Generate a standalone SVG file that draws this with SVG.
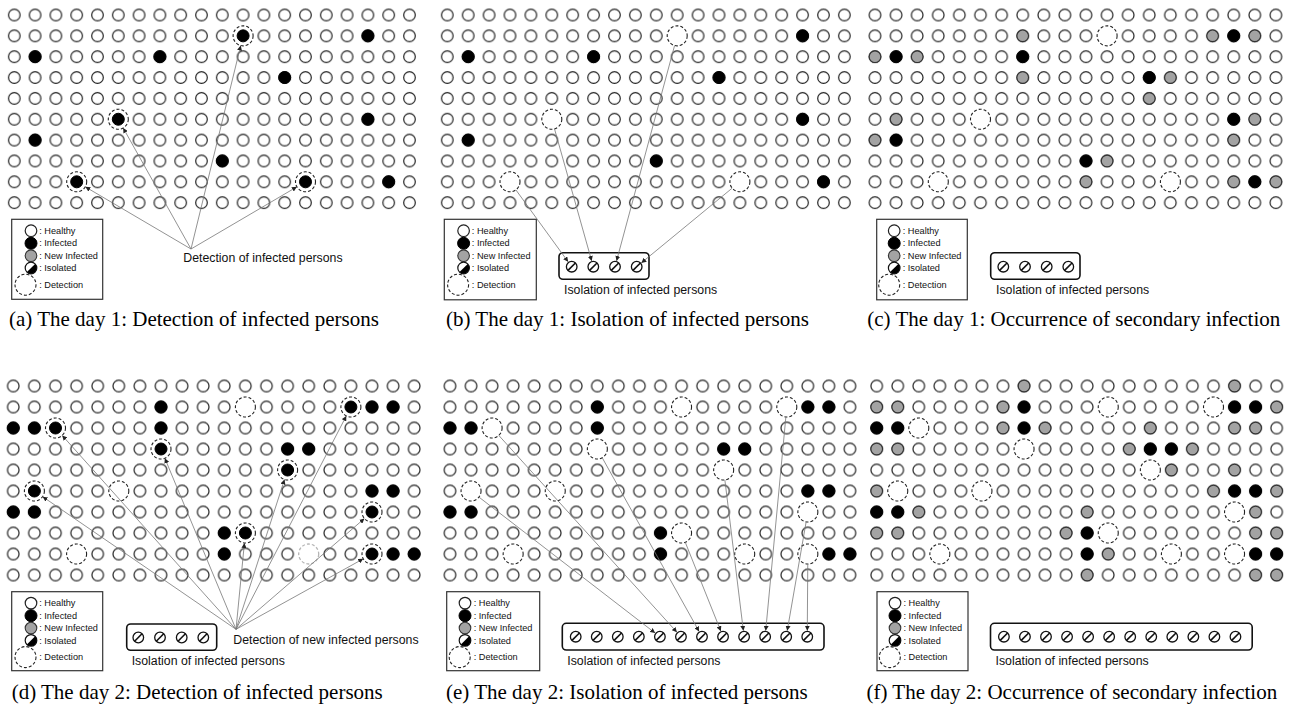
<svg xmlns="http://www.w3.org/2000/svg" xmlns:xlink="http://www.w3.org/1999/xlink" width="1293" height="707" viewBox="0 0 1293 707">
<style>
.h{fill:#fff;stroke:#222;stroke-width:1.2}
.b{fill:#000;stroke:#000;stroke-width:1}
.g{fill:#a3a3a3;stroke:#333;stroke-width:1.1}
.r{fill:#fff;stroke:#222;stroke-width:1.1;stroke-dasharray:3 2}
.rl{fill:#fff;stroke:#b5b5b5;stroke-width:1.3;stroke-dasharray:3 2}
.lg{fill:#fff;stroke:#333;stroke-width:1.2}
.box{fill:#fff;stroke:#111;stroke-width:1.6}
.lt{font-family:"Liberation Sans",Arial,sans-serif;font-size:9.2px;fill:#111}
.lab{font-family:"Liberation Sans",Arial,sans-serif;font-size:12.3px;fill:#111}
.cap{font-family:"Liberation Serif","Times New Roman",serif;font-size:21px;fill:#000}
.cn{fill:none;stroke:#777;stroke-width:0.8;marker-end:url(#ah)}
</style>
<defs>
<marker id="ah" viewBox="0 0 10 10" refX="10" refY="5" markerWidth="5" markerHeight="5" markerUnits="userSpaceOnUse" orient="auto"><path d="M0,0L10,5L0,10z" fill="#222"/></marker>
<pattern id="pA" patternUnits="userSpaceOnUse" x="3.9" y="4.575" width="20.8" height="20.85"><circle class="h" cx="10.4" cy="10.425" r="5.8"/></pattern>
<pattern id="pB" patternUnits="userSpaceOnUse" x="436.85" y="4.575" width="20.9" height="20.85"><circle class="h" cx="10.45" cy="10.425" r="5.8"/></pattern>
<pattern id="pC" patternUnits="userSpaceOnUse" x="864.45" y="4.575" width="21.1" height="20.85"><circle class="h" cx="10.55" cy="10.425" r="5.8"/></pattern>
<pattern id="pD" patternUnits="userSpaceOnUse" x="2.75" y="375.5" width="21.1" height="21"><circle class="h" cx="10.55" cy="10.5" r="5.8"/></pattern>
<pattern id="pE" patternUnits="userSpaceOnUse" x="439.475" y="375.5" width="21.05" height="21"><circle class="h" cx="10.525" cy="10.5" r="5.8"/></pattern>
<pattern id="pF" patternUnits="userSpaceOnUse" x="866.175" y="375.5" width="21.05" height="21"><circle class="h" cx="10.525" cy="10.5" r="5.8"/></pattern>
<g id="iso"><circle cx="0" cy="0" r="5.3" fill="#fff" stroke="#111" stroke-width="1.3"/><line x1="3.7" y1="-3.7" x2="-3.7" y2="3.7" stroke="#111" stroke-width="1.6"/></g>
<g id="isoL"><circle cx="0" cy="0" r="5.8" fill="#fff" stroke="#111" stroke-width="1.2"/><path d="M4.1,-4.1A5.8,5.8 0 0 1 -4.1,4.1Z" fill="#000"/></g>
</defs>
<rect width="1293" height="707" fill="#fff"/>

<!-- ===== Panel (a) ===== -->
<g id="panel-a">
<rect x="3.9" y="4.575" width="416" height="208.5" fill="url(#pA)"/>
<g id="a-infected">
<circle class="b" cx="35.1" cy="56.7" r="6"/><circle class="b" cx="159.9" cy="56.7" r="6"/><circle class="b" cx="367.9" cy="35.85" r="6"/><circle class="b" cx="284.7" cy="77.55" r="6"/><circle class="b" cx="367.9" cy="119.25" r="6"/><circle class="b" cx="35.1" cy="140.1" r="6"/><circle class="b" cx="222.3" cy="160.95" r="6"/><circle class="b" cx="388.7" cy="181.8" r="6"/>
</g>
<g id="a-detected">
<circle class="r" cx="243.1" cy="35.85" r="10"/><circle class="b" cx="243.1" cy="35.85" r="6"/>
<circle class="r" cx="118.3" cy="119.25" r="10"/><circle class="b" cx="118.3" cy="119.25" r="6"/>
<circle class="r" cx="76.7" cy="181.8" r="10"/><circle class="b" cx="76.7" cy="181.8" r="6"/>
<circle class="r" cx="305.5" cy="181.8" r="10"/><circle class="b" cx="305.5" cy="181.8" r="6"/>
</g>
<g id="legend-a" transform="translate(11.7,219.3)">
<rect class="lg" x="0" y="0" width="91" height="80"/>
<circle class="h" cx="19.3" cy="11.4" r="5.8"/><circle class="b" cx="19.3" cy="24" r="6"/><circle class="g" cx="19.3" cy="36.4" r="5.8"/><use href="#isoL" x="19.3" y="48.7"/><circle class="r" cx="13.8" cy="65.4" r="10.5"/>
<text class="lt" x="27.5" y="14.6">: Healthy</text><text class="lt" x="27.5" y="27.2">: Infected</text><text class="lt" x="27.5" y="39.6">: New Infected</text><text class="lt" x="27.5" y="51.9">: Isolated</text><text class="lt" x="27.5" y="68.6">: Detection</text>
</g>
<text class="lab" x="183.3" y="262">Detection of infected persons</text>
<text class="cap" x="9" y="326">(a) The day 1: Detection of infected persons</text>
</g>

<!-- ===== Panel (b) ===== -->
<g id="panel-b">
<rect x="436.85" y="4.575" width="418" height="208.5" fill="url(#pB)"/>
<g id="b-infected">
<circle class="b" cx="802.6" cy="35.85" r="6"/><circle class="b" cx="468.2" cy="56.7" r="6"/><circle class="b" cx="593.6" cy="56.7" r="6"/><circle class="b" cx="719" cy="77.55" r="6"/><circle class="b" cx="802.6" cy="119.25" r="6"/><circle class="b" cx="468.2" cy="140.1" r="6"/><circle class="b" cx="656.3" cy="160.95" r="6"/><circle class="b" cx="823.5" cy="181.8" r="6"/>
</g>
<g id="b-detected">
<circle class="r" cx="677.2" cy="35.85" r="10"/><circle class="r" cx="551.8" cy="119.25" r="10"/><circle class="r" cx="510" cy="181.8" r="10"/><circle class="r" cx="739.9" cy="181.8" r="10"/>
</g>
<g id="legend-b" transform="translate(444.3,219.3)">
<rect class="lg" x="0" y="0" width="92" height="80.5"/>
<circle class="h" cx="19.3" cy="11.4" r="5.8"/><circle class="b" cx="19.3" cy="24" r="6"/><circle class="g" cx="19.3" cy="36.4" r="5.8"/><use href="#isoL" x="19.3" y="48.7"/><circle class="r" cx="13.8" cy="65.4" r="10.5"/>
<text class="lt" x="27.5" y="14.6">: Healthy</text><text class="lt" x="27.5" y="27.2">: Infected</text><text class="lt" x="27.5" y="39.6">: New Infected</text><text class="lt" x="27.5" y="51.9">: Isolated</text><text class="lt" x="27.5" y="68.6">: Detection</text>
</g>
<g id="iso-b">
<rect class="box" x="559" y="252.7" width="90" height="26.6" rx="4"/>
<use href="#iso" x="571.7" y="266.7"/><use href="#iso" x="593.3" y="266.7"/><use href="#iso" x="615" y="266.7"/><use href="#iso" x="636.7" y="266.7"/>
</g>
<text class="lab" x="564" y="294.3">Isolation of infected persons</text>
<text class="cap" x="446" y="326">(b) The day 1: Isolation of infected persons</text>
</g>

<!-- ===== Panel (c) ===== -->
<g id="panel-c">
<rect x="864.45" y="4.575" width="422" height="208.5" fill="url(#pC)"/>
<g id="c-nodes">
<circle class="g" cx="1022.7" cy="35.85" r="5.8"/><circle class="r" cx="1107.1" cy="35.85" r="10"/><circle class="g" cx="1212.6" cy="35.85" r="5.8"/><circle class="b" cx="1233.7" cy="35.85" r="6"/><circle class="g" cx="1254.8" cy="35.85" r="5.8"/>
<circle class="g" cx="875" cy="56.7" r="5.8"/><circle class="b" cx="896.1" cy="56.7" r="6"/><circle class="g" cx="917.2" cy="56.7" r="5.8"/><circle class="b" cx="1022.7" cy="56.7" r="6"/>
<circle class="g" cx="1022.7" cy="77.55" r="5.8"/><circle class="b" cx="1149.3" cy="77.55" r="6"/><circle class="g" cx="1170.4" cy="77.55" r="5.8"/>
<circle class="g" cx="1149.3" cy="98.4" r="5.8"/>
<circle class="g" cx="896.1" cy="119.25" r="5.8"/><circle class="r" cx="980.5" cy="119.25" r="10"/><circle class="b" cx="1233.7" cy="119.25" r="6"/><circle class="g" cx="1254.8" cy="119.25" r="5.8"/>
<circle class="g" cx="875" cy="140.1" r="5.8"/><circle class="b" cx="896.1" cy="140.1" r="6"/><circle class="g" cx="1233.7" cy="140.1" r="5.8"/>
<circle class="b" cx="1086" cy="160.95" r="6"/><circle class="g" cx="1107.1" cy="160.95" r="5.8"/>
<circle class="r" cx="938.3" cy="181.8" r="10"/><circle class="g" cx="1086" cy="181.8" r="5.8"/><circle class="r" cx="1170.4" cy="181.8" r="10"/><circle class="g" cx="1233.7" cy="181.8" r="5.8"/><circle class="b" cx="1254.8" cy="181.8" r="6"/><circle class="g" cx="1275.9" cy="181.8" r="5.8"/>
</g>
<g id="legend-c" transform="translate(876.7,219.3)">
<rect class="lg" x="0" y="0" width="90.6" height="80.5"/>
<circle class="h" cx="17.5" cy="11.4" r="5.8"/><circle class="b" cx="17.5" cy="24" r="6"/><circle class="g" cx="17.5" cy="36.4" r="5.8"/><use href="#isoL" x="17.5" y="48.7"/><circle class="r" cx="12.5" cy="65.4" r="10.5"/>
<text class="lt" x="26" y="14.6">: Healthy</text><text class="lt" x="26" y="27.2">: Infected</text><text class="lt" x="26" y="39.6">: New Infected</text><text class="lt" x="26" y="51.9">: Isolated</text><text class="lt" x="26" y="68.6">: Detection</text>
</g>
<g id="iso-c">
<rect class="box" x="990.7" y="252.7" width="89.3" height="26.6" rx="4"/>
<use href="#iso" x="1003.3" y="266.7"/><use href="#iso" x="1025" y="266.7"/><use href="#iso" x="1046.7" y="266.7"/><use href="#iso" x="1068.3" y="266.7"/>
</g>
<text class="lab" x="996" y="294.3">Isolation of infected persons</text>
<text class="cap" x="867.3" y="326">(c) The day 1: Occurrence of secondary infection</text>
</g>

<!-- ===== Panel (d) ===== -->
<g id="panel-d">
<rect x="2.75" y="375.5" width="422" height="210" fill="url(#pD)"/>
<g id="d-nodes">
<circle class="b" cx="161" cy="407" r="6"/><circle class="r" cx="245.4" cy="407" r="10"/><circle class="r" cx="350.9" cy="407" r="10"/><circle class="b" cx="350.9" cy="407" r="6"/><circle class="b" cx="372" cy="407" r="6"/><circle class="b" cx="393.1" cy="407" r="6"/>
<circle class="b" cx="13.3" cy="428" r="6"/><circle class="b" cx="34.4" cy="428" r="6"/><circle class="r" cx="55.5" cy="428" r="10"/><circle class="b" cx="55.5" cy="428" r="6"/><circle class="b" cx="161" cy="428" r="6"/>
<circle class="r" cx="161" cy="449" r="10"/><circle class="b" cx="161" cy="449" r="6"/><circle class="b" cx="287.6" cy="449" r="6"/><circle class="b" cx="308.7" cy="449" r="6"/>
<circle class="r" cx="287.6" cy="470" r="10"/><circle class="b" cx="287.6" cy="470" r="6"/>
<circle class="r" cx="34.4" cy="491" r="10"/><circle class="b" cx="34.4" cy="491" r="6"/><circle class="r" cx="118.8" cy="491" r="10"/><circle class="b" cx="372" cy="491" r="6"/><circle class="b" cx="393.1" cy="491" r="6"/>
<circle class="b" cx="13.3" cy="512" r="6"/><circle class="b" cx="34.4" cy="512" r="6"/><circle class="r" cx="372" cy="512" r="10"/><circle class="b" cx="372" cy="512" r="6"/>
<circle class="b" cx="224.3" cy="533" r="6"/><circle class="r" cx="245.4" cy="533" r="10"/><circle class="b" cx="245.4" cy="533" r="6"/>
<circle class="r" cx="76.6" cy="554" r="10"/><circle class="b" cx="224.3" cy="554" r="6"/><circle class="rl" cx="308.7" cy="554" r="10"/><circle class="r" cx="372" cy="554" r="10"/><circle class="b" cx="372" cy="554" r="6"/><circle class="b" cx="393.1" cy="554" r="6"/><circle class="b" cx="414.2" cy="554" r="6"/>
</g>
<g id="legend-d" transform="translate(11.7,591.7)">
<rect class="lg" x="0" y="0" width="91" height="79"/>
<circle class="h" cx="19.3" cy="11.4" r="5.8"/><circle class="b" cx="19.3" cy="24" r="6"/><circle class="g" cx="19.3" cy="36.4" r="5.8"/><use href="#isoL" x="19.3" y="48.7"/><circle class="r" cx="13.8" cy="65.4" r="10.5"/>
<text class="lt" x="27.5" y="14.6">: Healthy</text><text class="lt" x="27.5" y="27.2">: Infected</text><text class="lt" x="27.5" y="39.6">: New Infected</text><text class="lt" x="27.5" y="51.9">: Isolated</text><text class="lt" x="27.5" y="68.6">: Detection</text>
</g>
<g id="iso-d">
<rect class="box" x="126.7" y="624" width="90" height="26.3" rx="4"/>
<use href="#iso" x="138.3" y="637.5"/><use href="#iso" x="160" y="637.5"/><use href="#iso" x="181.7" y="637.5"/><use href="#iso" x="203.3" y="637.5"/>
</g>
<text class="lab" x="131.7" y="665.3">Isolation of infected persons</text>
<text class="lab" x="233.3" y="643.6">Detection of new infected persons</text>
<text class="cap" x="11.7" y="699">(d) The day 2: Detection of infected persons</text>
</g>

<!-- ===== Panel (e) ===== -->
<g id="panel-e">
<rect x="439.475" y="375.5" width="421" height="210" fill="url(#pE)"/>
<g id="e-nodes">
<circle class="b" cx="597.35" cy="407" r="6"/><circle class="r" cx="681.55" cy="407" r="10"/><circle class="r" cx="786.8" cy="407" r="10"/><circle class="b" cx="807.85" cy="407" r="6"/><circle class="b" cx="828.9" cy="407" r="6"/>
<circle class="b" cx="450" cy="428" r="6"/><circle class="b" cx="471.05" cy="428" r="6"/><circle class="r" cx="492.1" cy="428" r="10"/><circle class="b" cx="597.35" cy="428" r="6"/>
<circle class="r" cx="597.35" cy="449" r="10"/><circle class="b" cx="723.65" cy="449" r="6"/><circle class="b" cx="744.7" cy="449" r="6"/>
<circle class="r" cx="723.65" cy="470" r="10"/>
<circle class="r" cx="471.05" cy="491" r="10"/><circle class="r" cx="555.25" cy="491" r="10"/><circle class="b" cx="807.85" cy="491" r="6"/><circle class="b" cx="828.9" cy="491" r="6"/>
<circle class="b" cx="450" cy="512" r="6"/><circle class="b" cx="471.05" cy="512" r="6"/><circle class="r" cx="807.85" cy="512" r="10"/>
<circle class="b" cx="660.5" cy="533" r="6"/><circle class="r" cx="681.55" cy="533" r="10"/>
<circle class="r" cx="513.15" cy="554" r="10"/><circle class="b" cx="660.5" cy="554" r="6"/><circle class="r" cx="744.7" cy="554" r="10"/><circle class="r" cx="807.85" cy="554" r="10"/><circle class="b" cx="828.9" cy="554" r="6"/><circle class="b" cx="849.95" cy="554" r="6"/>
</g>
<g id="legend-e" transform="translate(446.7,591.7)">
<rect class="lg" x="0" y="0" width="93" height="79"/>
<circle class="h" cx="18.3" cy="11.4" r="5.8"/><circle class="b" cx="18.3" cy="24" r="6"/><circle class="g" cx="18.3" cy="36.4" r="5.8"/><use href="#isoL" x="18.3" y="48.7"/><circle class="r" cx="13" cy="65.4" r="10.5"/>
<text class="lt" x="27" y="14.6">: Healthy</text><text class="lt" x="27" y="27.2">: Infected</text><text class="lt" x="27" y="39.6">: New Infected</text><text class="lt" x="27" y="51.9">: Isolated</text><text class="lt" x="27" y="68.6">: Detection</text>
</g>
<g id="iso-e">
<rect class="box" x="562.3" y="623.3" width="261.7" height="26.7" rx="4"/>
<use href="#iso" x="575.7" y="636.7"/><use href="#iso" x="596.75" y="636.7"/><use href="#iso" x="617.8" y="636.7"/><use href="#iso" x="638.85" y="636.7"/><use href="#iso" x="659.9" y="636.7"/><use href="#iso" x="680.95" y="636.7"/><use href="#iso" x="702" y="636.7"/><use href="#iso" x="723.05" y="636.7"/><use href="#iso" x="744.1" y="636.7"/><use href="#iso" x="765.15" y="636.7"/><use href="#iso" x="786.2" y="636.7"/><use href="#iso" x="807.25" y="636.7"/>
</g>
<text class="lab" x="567.3" y="665.3">Isolation of infected persons</text>
<text class="cap" x="446" y="699">(e) The day 2: Isolation of infected persons</text>
</g>

<!-- ===== Panel (f) ===== -->
<g id="panel-f">
<rect x="866.175" y="375.5" width="421" height="210" fill="url(#pF)"/>
<g id="f-nodes">
<circle class="g" cx="1024.05" cy="386" r="5.8"/><circle class="g" cx="1234.55" cy="386" r="5.8"/>
<circle class="g" cx="876.7" cy="407" r="5.8"/><circle class="g" cx="897.75" cy="407" r="5.8"/><circle class="g" cx="1003" cy="407" r="5.8"/><circle class="b" cx="1024.05" cy="407" r="6"/><circle class="r" cx="1108.25" cy="407" r="10"/><circle class="r" cx="1213.5" cy="407" r="10"/><circle class="b" cx="1234.55" cy="407" r="6"/><circle class="b" cx="1255.6" cy="407" r="6"/><circle class="g" cx="1276.65" cy="407" r="5.8"/>
<circle class="b" cx="876.7" cy="428" r="6"/><circle class="b" cx="897.75" cy="428" r="6"/><circle class="r" cx="918.8" cy="428" r="10"/><circle class="g" cx="1003" cy="428" r="5.8"/><circle class="b" cx="1024.05" cy="428" r="6"/><circle class="g" cx="1045.1" cy="428" r="5.8"/><circle class="g" cx="1150.35" cy="428" r="5.8"/><circle class="g" cx="1234.55" cy="428" r="5.8"/><circle class="g" cx="1255.6" cy="428" r="5.8"/>
<circle class="g" cx="876.7" cy="449" r="5.8"/><circle class="g" cx="897.75" cy="449" r="5.8"/><circle class="r" cx="1024.05" cy="449" r="10"/><circle class="g" cx="1129.3" cy="449" r="5.8"/><circle class="b" cx="1150.35" cy="449" r="6"/><circle class="b" cx="1171.4" cy="449" r="6"/><circle class="g" cx="1192.45" cy="449" r="5.8"/>
<circle class="r" cx="1150.35" cy="470" r="10"/><circle class="g" cx="1171.4" cy="470" r="5.8"/><circle class="g" cx="1234.55" cy="470" r="5.8"/>
<circle class="g" cx="876.7" cy="491" r="5.8"/><circle class="r" cx="897.75" cy="491" r="10"/><circle class="r" cx="981.95" cy="491" r="10"/><circle class="g" cx="1213.5" cy="491" r="5.8"/><circle class="b" cx="1234.55" cy="491" r="6"/><circle class="b" cx="1255.6" cy="491" r="6"/><circle class="g" cx="1276.65" cy="491" r="5.8"/>
<circle class="b" cx="876.7" cy="512" r="6"/><circle class="b" cx="897.75" cy="512" r="6"/><circle class="g" cx="918.8" cy="512" r="5.8"/><circle class="g" cx="1087.2" cy="512" r="5.8"/><circle class="r" cx="1234.55" cy="512" r="10"/><circle class="g" cx="1255.6" cy="512" r="5.8"/>
<circle class="g" cx="876.7" cy="533" r="5.8"/><circle class="g" cx="897.75" cy="533" r="5.8"/><circle class="g" cx="1066.15" cy="533" r="5.8"/><circle class="b" cx="1087.2" cy="533" r="6"/><circle class="r" cx="1108.25" cy="533" r="10"/><circle class="g" cx="1255.6" cy="533" r="5.8"/><circle class="g" cx="1276.65" cy="533" r="5.8"/>
<circle class="r" cx="939.85" cy="554" r="10"/><circle class="b" cx="1087.2" cy="554" r="6"/><circle class="g" cx="1108.25" cy="554" r="5.8"/><circle class="r" cx="1171.4" cy="554" r="10"/><circle class="r" cx="1234.55" cy="554" r="10"/><circle class="b" cx="1255.6" cy="554" r="6"/><circle class="b" cx="1276.65" cy="554" r="6"/>
<circle class="g" cx="1087.2" cy="575" r="5.8"/><circle class="g" cx="1255.6" cy="575" r="5.8"/><circle class="g" cx="1276.65" cy="575" r="5.8"/>
</g>
<g id="legend-f" transform="translate(877,591.7)">
<rect class="lg" x="0" y="0" width="91" height="79"/>
<circle class="h" cx="18" cy="11.4" r="5.8"/><circle class="b" cx="18" cy="24" r="6"/><circle class="g" cx="18" cy="36.4" r="5.8"/><use href="#isoL" x="18" y="48.7"/><circle class="r" cx="12.8" cy="65.4" r="10.5"/>
<text class="lt" x="26.5" y="14.6">: Healthy</text><text class="lt" x="26.5" y="27.2">: Infected</text><text class="lt" x="26.5" y="39.6">: New Infected</text><text class="lt" x="26.5" y="51.9">: Isolated</text><text class="lt" x="26.5" y="68.6">: Detection</text>
</g>
<g id="iso-f">
<rect class="box" x="990.5" y="623.3" width="261.7" height="26.7" rx="4"/>
<use href="#iso" x="1003.9" y="636.7"/><use href="#iso" x="1024.95" y="636.7"/><use href="#iso" x="1046" y="636.7"/><use href="#iso" x="1067.05" y="636.7"/><use href="#iso" x="1088.1" y="636.7"/><use href="#iso" x="1109.15" y="636.7"/><use href="#iso" x="1130.2" y="636.7"/><use href="#iso" x="1151.25" y="636.7"/><use href="#iso" x="1172.3" y="636.7"/><use href="#iso" x="1193.35" y="636.7"/><use href="#iso" x="1214.4" y="636.7"/><use href="#iso" x="1235.45" y="636.7"/>
</g>
<text class="lab" x="995.5" y="665.3">Isolation of infected persons</text>
<text class="cap" x="866.5" y="699">(f) The day 2: Occurrence of secondary infection</text>
</g>

<!-- ===== Connectors ===== -->
<g id="connectors">
<path class="cn" d="M191,249L123.19,127.97"/>
<path class="cn" d="M191,249L85.32,186.87"/>
<path class="cn" d="M191,249L240.73,45.56"/>
<path class="cn" d="M191,249L296.88,186.86"/>
<path class="cn" d="M515.88,189.89L568.17,261.85"/>
<path class="cn" d="M554.51,128.88L591.67,260.92"/>
<path class="cn" d="M674.6,45.51L616.56,260.91"/>
<path class="cn" d="M732.18,188.15L641.33,262.89"/>
<path class="cn" d="M236,629.3L346.31,415.88"/>
<path class="cn" d="M236,629.3L62.18,435.45"/>
<path class="cn" d="M236,629.3L164.84,458.23"/>
<path class="cn" d="M236,629.3L284.52,479.51"/>
<path class="cn" d="M236,629.3L42.65,496.66"/>
<path class="cn" d="M236,629.3L364.43,518.53"/>
<path class="cn" d="M236,629.3L244.43,542.95"/>
<path class="cn" d="M236,629.3L363.25,558.84"/>
<path class="cn" d="M478.97,497.11L655.15,633.04"/>
<path class="cn" d="M498.81,435.42L676.92,632.25"/>
<path class="cn" d="M602.22,457.73L699.08,631.46"/>
<path class="cn" d="M685.27,542.28L720.82,631.13"/>
<path class="cn" d="M724.87,479.93L743.37,630.74"/>
<path class="cn" d="M785.86,416.96L765.71,630.73"/>
<path class="cn" d="M806.14,521.85L787.23,630.79"/>
<path class="cn" d="M807.78,564L807.29,630.7"/>
</g>
</svg>
